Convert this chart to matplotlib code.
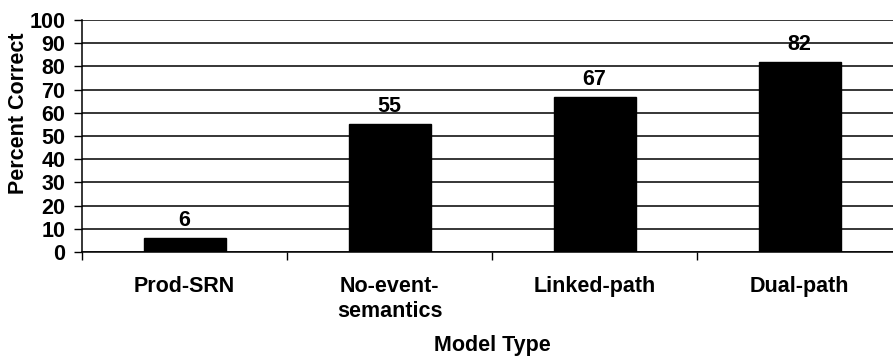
import numpy as np
import matplotlib
matplotlib.use("Agg")
import matplotlib.pyplot as plt

plt.rcParams['font.family'] = ['Liberation Sans', 'DejaVu Sans']
plt.rcParams['font.weight'] = 'bold'

models = ['Prod-SRN', 'No-event-\nsemantics', 'Linked-path', 'Dual-path']
percent_correct = [6, 55, 67, 82]
y_ticks = list(range(0, 101, 10))

fig = plt.figure(figsize=(8.93, 3.56), dpi=100)
ax = fig.add_axes([82 / 893, 104 / 356, 820 / 893, 232 / 356])

x = np.arange(len(models))
bars = ax.bar(x, percent_correct, width=0.4, color='black', edgecolor='black', zorder=3)

for xi, v in zip(x, percent_correct):
    ax.annotate(str(v), (xi, v), xytext=(0, 5), textcoords='offset points',
                ha='center', va='bottom', fontsize=15.5, fontweight='bold')

ax.set_xlim(-0.5, len(models) - 0.5)
ax.set_ylim(0, 100)
ax.set_yticks(y_ticks)
ax.yaxis.grid(True, color='black', linewidth=1.1, zorder=0)
ax.tick_params(axis='y', length=6, width=1, pad=6, labelsize=15.5)

# labels sit at category centres, tick marks at the boundaries
ax.set_xticks(x)
ax.set_xticklabels(models, fontsize=15.5, fontweight='bold', linespacing=1.3)
ax.tick_params(axis='x', which='major', length=0, pad=17)
ax.set_xticks(np.arange(-0.5, len(models)), minor=True)
ax.tick_params(axis='x', which='minor', length=6, width=1)

for side in ['top', 'right']:
    ax.spines[side].set_visible(False)
ax.spines['left'].set_linewidth(1.1)
ax.spines['bottom'].set_linewidth(1.1)

ax.set_ylabel('Percent Correct', fontsize=15.5, fontweight='bold')
ax.yaxis.set_label_coords((29 - 82) / 820, 0.6)
ax.set_xlabel('Model Type', fontsize=15.5, fontweight='bold', va='baseline')
ax.xaxis.set_label_coords(0.5, (4.5 - 104) / 232)

fig.savefig('out.png', dpi=100)
